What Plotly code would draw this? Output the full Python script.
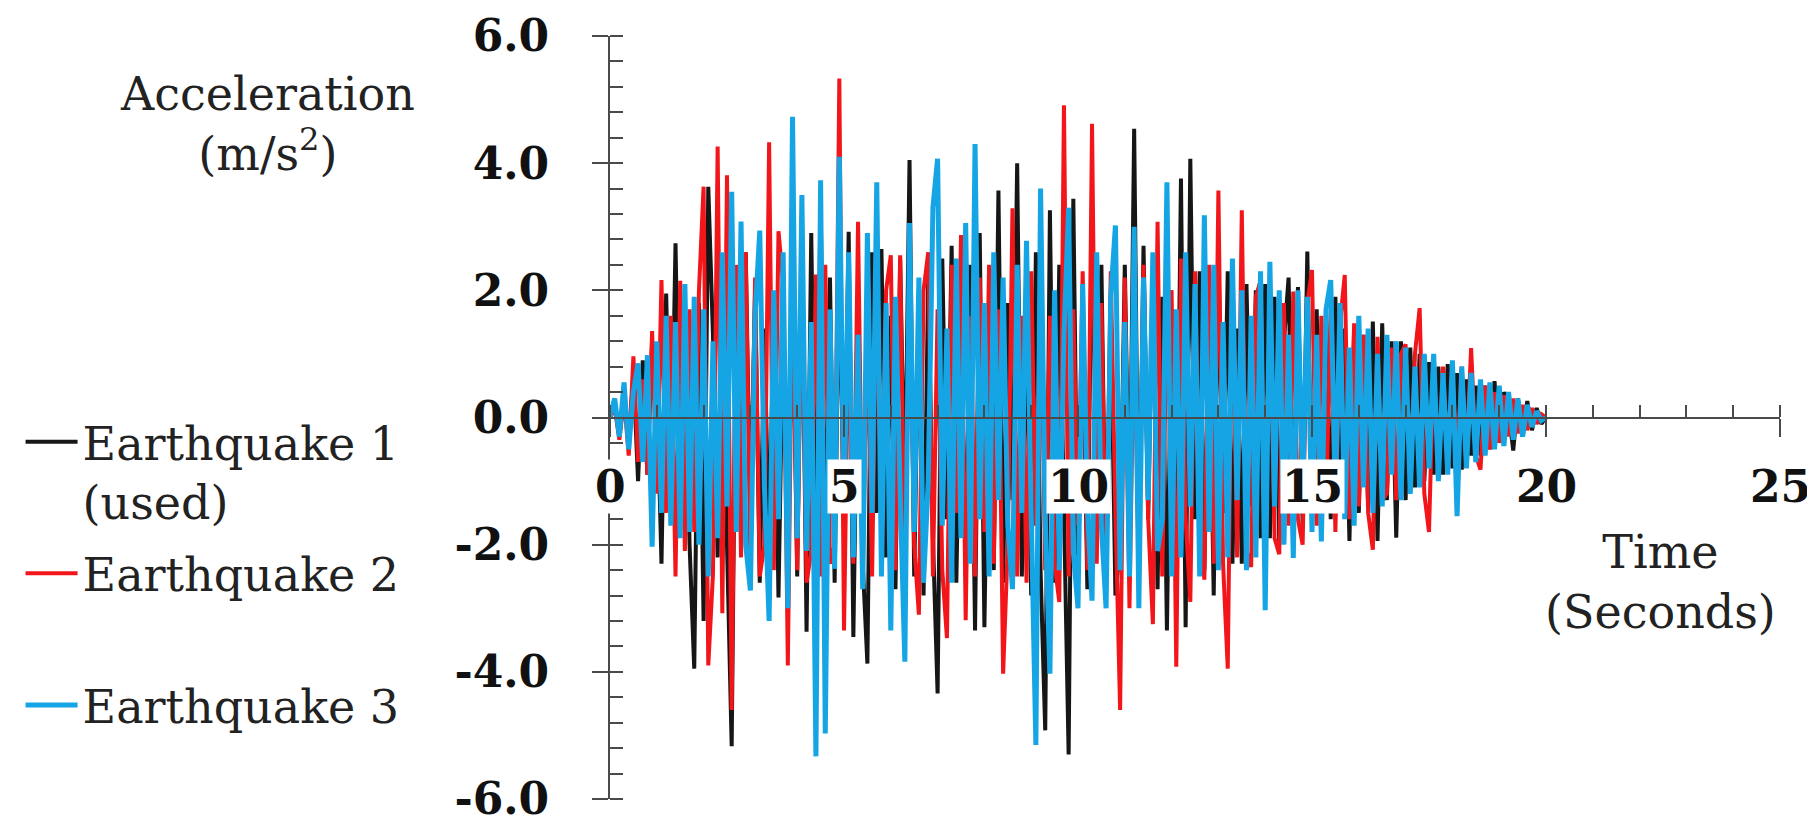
import plotly.graph_objects as go

# records are sampled every 0.1 s, starting at t = 0
dt = 0.1

# Earthquake 1 (used), acceleration in m/s^2 - one row per second
eq1_acc = [
    0.0, 0.2, -0.3, 0.4, -0.4, 0.7, -1.0, 0.9, -0.9, 1.2,
    0.6, -2.3, 1.95, -1.4, 2.74, -1.6, 1.5, -2.0, -3.95, 1.8,
    -3.2, 3.63, 1.3, -2.2, 2.5, -2.0, -5.17, 2.2, -1.9, 2.6,
    -1.6, 2.0, -2.6, 1.4, -2.2, 1.85, -2.83, 1.5, -2.0, 2.2,
    -2.5, 2.82, -3.37, 2.9, -2.2, 3.47, -2.4, 2.2, -2.6, 2.5,
    -1.7, 2.92, -3.45, 1.6, -2.3, -3.87, 2.6, -1.5, 2.65, -2.2,
    1.6, -2.7, 2.5, -1.4, 4.05, -2.5, 1.7, -2.8, 2.2, -1.9,
    -4.34, 2.5, -1.6, 2.7, -2.6, 1.5, -2.5, 2.4, -3.35, 2.9,
    -3.3, 1.4, -2.4, 3.57, -2.6, 1.8, -1.3, 4.0, -2.5, 1.6,
    -2.8, 2.6, -2.4, -4.92, 3.26, -2.6, 2.4, -1.5, -5.3, 3.44,
    -2.6, 1.6, -2.7, 3.4, -1.5, 2.4, -2.6, 1.7, -2.8, -2.0,
    2.4, -1.8, 4.54, -2.5, 2.7, -1.6, 2.4, -2.7, 1.9, -3.35,
    1.7, -2.6, 3.76, -3.3, 4.07, -1.6, 2.3, -2.4, 1.5, -2.8,
    2.6, -1.5, 2.3, -2.3, 1.4, -2.3, 2.1, -1.4, 2.0, -1.9,
    2.1, -1.9, 1.9, -2.0, 1.2, 2.2, -1.8, 2.05, -1.7, 2.61,
    -1.6, 1.7, -1.7, 1.67, -1.6, 1.9, -1.5, 1.4, -1.94, 1.4,
    -1.5, 1.3, -1.4, 1.51, -1.94, 1.48, -1.3, 1.2, -1.89, 1.2,
    -1.3, 1.1, -1.1, 1.0, -1.0, 0.87, -0.9, 0.8, -0.9, 0.84,
    -0.8, 0.7, -0.82, 0.6, -0.6, 0.5, -0.6, 0.5, -0.5, 0.57,
    -0.4, 0.4, 0.1, -0.52, 0.3, -0.3, 0.26, -0.2, 0.15, -0.1,
    0.0,
]

# Earthquake 2
eq2_acc = [
    0.0, 0.15, -0.35, 0.3, -0.6, 0.96, -0.7, 0.6, -0.9, 1.36,
    -1.2, 2.16, -1.5, 1.6, -2.5, 2.15, -2.1, 1.7, -1.8, 1.98,
    3.63, -3.9, -2.47, 4.26, -3.08, 3.81, -4.6, 2.4, -2.2, 2.6,
    -2.3, 2.2, -2.5, -2.0, 4.33, -2.4, 2.93, 2.1, -3.9, 2.3,
    -2.4, 2.2, -2.6, -2.1, 2.25, -2.5, 2.4, -2.3, -2.0, 5.33,
    -3.35, 1.6, -2.3, 3.08, -2.5, 1.5, -2.5, 2.4, -1.6, 2.0,
    2.55, -2.4, 2.55, -2.6, 2.3, -2.0, -3.1, 2.0, 2.6, -2.5,
    1.7, -2.4, -3.47, 2.4, -1.5, 2.87, -3.19, 1.6, -2.5, 2.2,
    -1.8, 2.4, -2.3, 1.7, -4.03, -2.0, 3.29, -2.5, 1.6, -2.6,
    2.3, -1.7, 2.2, -2.4, 1.6, -2.3, -2.9, 4.91, -2.5, 1.7,
    -1.7, 2.3, -2.4, 4.62, -2.3, 1.8, -2.5, 2.3, -1.5, -4.6,
    2.2, -3.0, 1.6, -2.5, 2.4, -1.6, -3.25, 3.08, -2.5, 1.8,
    2.0, -3.92, 2.5, -1.6, -2.9, 2.3, -1.5, -2.55, 2.4, -2.3,
    3.57, -2.3, -3.95, 2.4, -2.2, 3.26, -2.1, -2.35, 1.9, 2.15,
    -2.0, 1.8, -1.9, -2.15, 1.8, -1.7, 1.98, -1.6, -2.0, 1.8,
    2.32, -1.7, 1.6, -1.5, 1.7, -1.8, 1.5, 2.24, -1.6, 1.48,
    -1.4, 1.3, -1.5, -2.08, 1.27, -1.3, -1.2, 1.1, -1.3, 1.0,
    1.15, -1.1, 1.0, 1.72, -1.2, -1.8, 0.9, -0.9, 0.8, -0.8,
    0.7, -0.7, 0.8, -0.6, 1.09, -0.6, -0.82, 0.5, -0.5, 0.4,
    -0.4, 0.35, -0.3, 0.3, -0.25, 0.2, -0.2, 0.15, -0.1, 0.05,
    0.0,
]

# Earthquake 3
eq3_acc = [
    0.0, 0.3, -0.3, 0.55, -0.5, 0.4, 0.85, -0.7, 0.98, -2.03,
    1.2, -1.5, 1.6, -1.7, 1.5, -1.9, 2.1, -1.8, 1.9, -2.0,
    1.7, -2.5, 1.2, -1.9, 2.6, -1.4, 3.55, -1.8, 3.08, -2.0,
    -2.72, 1.6, 2.94, -1.1, -3.2, 2.0, -1.6, 2.6, -3.0, 4.73,
    -1.9, 3.5, -2.1, 1.5, -5.33, 3.73, -4.97, 1.7, -2.38, 4.1,
    -1.4, 2.6, -2.2, 1.3, -2.7, 2.9, -1.5, 3.7, -2.5, 1.8,
    -3.35, 1.9, -1.2, -3.84, 3.06, -1.8, 2.2, -2.6, -1.0, 3.3,
    4.07, -1.7, 1.4, -2.6, 2.5, -1.9, 3.06, -2.3, 4.3, -1.6,
    1.8, -2.5, 2.6, -1.3, 2.2, -1.7, -2.7, 2.4, -1.5, 2.78,
    -1.5, -5.15, 3.6, -1.6, -4.03, 2.0, -2.4, 1.3, 3.3, -2.1,
    -3.0, 2.1, -1.4, -2.88, 2.6, -1.7, -3.0, 1.9, 3.02, -2.4,
    1.5, -2.5, 3.0, -3.0, 2.2, -1.3, 2.6, -2.1, -1.6, 3.7,
    -2.5, 1.7, -2.2, 2.6, -1.4, 2.1, -2.5, 3.18, -1.8, 2.4,
    -2.4, 1.5, -2.2, 2.5, -1.3, 2.0, -2.4, 1.6, -2.2, 2.3,
    -3.03, 2.45, -1.4, 2.0, -2.0, 1.3, -2.21, 2.0, -1.2, 1.9,
    -1.8, 1.3, -1.95, 1.7, 2.16, -1.2, 1.8, -1.6, 1.1, -1.7,
    1.6, -1.1, 1.4, -1.5, 1.0, -1.4, 1.3, -0.9, 1.2, -1.3,
    1.1, -1.2, 0.8, -1.1, 1.0, -0.8, 1.0, -1.0, 0.7, -0.9,
    0.9, -1.55, 0.8, -0.8, 0.7, -0.7, 0.6, -0.6, 0.55, -0.5,
    0.5, -0.45, 0.4, -0.35, 0.3, -0.3, 0.2, -0.15, 0.1, -0.05,
    0.0,
]

series_names = ["Earthquake 1<br>(used)", "Earthquake 2<br>&nbsp;", "Earthquake 3"]
series_colors = ["#161616", "#F2161B", "#16A5E4"]
series_widths = [4, 4, 5]

x_tick_vals = [0, 5, 10, 15, 20, 25]
x_tick_text = ["0", "5", "10", "15", "20", "25"]
y_tick_vals = [-6, -4, -2, 0, 2, 4, 6]
y_tick_text = ["-6.0", "-4.0", "-2.0", "0.0", "2.0", "4.0", "6.0"]

serif = "DejaVu Serif"
axis_col = "#4a4a4a"

fig = go.Figure()

for i, acc in enumerate([eq1_acc, eq2_acc, eq3_acc]):
    fig.add_trace(
        go.Scatter(
            x0=0,
            dx=dt,
            y=acc,
            mode="lines",
            name=series_names[i],
            legendgroup="eq%d" % (i + 1),
            line=dict(color=series_colors[i], width=series_widths[i]),
        )
    )

# empty trace so the overlay axes (inner half of the major ticks) get drawn
fig.add_trace(go.Scatter(x=[], y=[], xaxis="x2", yaxis="y2", showlegend=False))

# x tick labels sit on white boxes over the traces
for v, t in zip(x_tick_vals, x_tick_text):
    fig.add_annotation(
        x=v, y=0, xref="x", yref="y", text="<b>" + t + "</b>",
        showarrow=False, yanchor="top", yshift=-41,
        bgcolor="white", borderpad=1,
        font=dict(family=serif, size=44, color="#111"),
    )

fig.add_annotation(
    x=-0.2925, y=0.885, xref="paper", yref="paper",
    text="Acceleration<br>(m/s<sup>2</sup>)", showarrow=False,
    xanchor="center", yanchor="middle",
    font=dict(family=serif, size=46, color="#222"),
)
fig.add_annotation(
    x=0.898, y=0.285, xref="paper", yref="paper",
    text="Time<br>(Seconds)", showarrow=False,
    xanchor="center", yanchor="middle",
    font=dict(family=serif, size=46, color="#222"),
)

fig.update_layout(
    width=1815,
    height=826,
    margin=dict(l=597, r=43, t=28, b=35),
    plot_bgcolor="white",
    paper_bgcolor="white",
    showlegend=True,
    legend=dict(
        x=-0.5038, y=0.516, xanchor="left", yanchor="top",
        font=dict(family=serif, size=46, color="#222"),
        itemwidth=52, valign="top", traceorder="grouped", tracegroupgap=9,
        bgcolor="rgba(0,0,0,0)",
    ),
    xaxis=dict(
        range=[0, 25],
        anchor="free", position=0.5, automargin=False,
        showgrid=False, zeroline=False,
        showline=True, linecolor=axis_col, linewidth=2,
        tickvals=x_tick_vals, ticks="outside", ticklen=18, tickwidth=2,
        tickcolor=axis_col, showticklabels=False,
        minor=dict(ticks="inside", dtick=1, ticklen=12, tickwidth=2, tickcolor=axis_col),
    ),
    xaxis2=dict(
        range=[0, 25], overlaying="x", anchor="free", position=0.5, automargin=False,
        showgrid=False, zeroline=False, showline=False,
        tickvals=x_tick_vals, ticks="inside", ticklen=12, tickwidth=2,
        tickcolor=axis_col, showticklabels=False,
    ),
    yaxis=dict(
        range=[-6, 6], automargin=False,
        showgrid=False, zeroline=False,
        showline=True, linecolor=axis_col, linewidth=2,
        tickvals=y_tick_vals, ticktext=y_tick_text,
        ticks="outside", ticklen=16, tickwidth=2, tickcolor=axis_col,
        tickfont=dict(family=serif, size=44, color="#111", weight="bold"),
        ticklabelstandoff=34,
        minor=dict(ticks="inside", dtick=0.4, ticklen=13, tickwidth=2, tickcolor=axis_col),
    ),
    yaxis2=dict(
        range=[-6, 6], overlaying="y", anchor="x2", automargin=False,
        showgrid=False, zeroline=False, showline=False,
        tickvals=y_tick_vals, ticks="inside", ticklen=13, tickwidth=2,
        tickcolor=axis_col, showticklabels=False,
    ),
)

fig.write_html("out.html")
